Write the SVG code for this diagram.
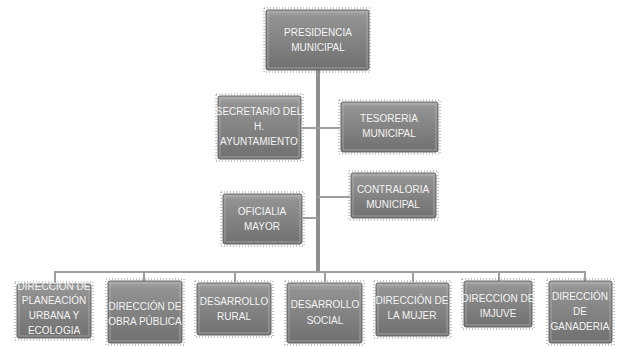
<svg xmlns="http://www.w3.org/2000/svg" width="619" height="346" viewBox="0 0 619 346">
<defs>
<linearGradient id="g" x1="0" y1="0" x2="0" y2="1">
<stop offset="0" stop-color="#a8a8a8"/>
<stop offset="0.12" stop-color="#929292"/>
<stop offset="1" stop-color="#707070"/>
</linearGradient>
</defs>
<style>
.box{fill:url(#g);stroke:#666;stroke-width:1}
.bevel{fill:none;stroke:#bcbcbc;stroke-width:1;opacity:0.6}
.dot{fill:none;stroke:#8a8a8a;stroke-width:1;stroke-dasharray:1 2}
.t{font-family:"Liberation Sans","DejaVu Sans",sans-serif;font-size:10px;fill:#f4f4f4;text-anchor:middle}
.c{stroke:#8f8f8f;fill:none}
.thin{stroke:#9e9e9e;stroke-width:2;fill:none}
</style>
<rect width="619" height="346" fill="#ffffff"/>
<g id="connectors">
<line class="c" x1="318" y1="70" x2="318" y2="272" stroke-width="4"/>
<line class="thin" x1="302" y1="128" x2="340" y2="128"/>
<line class="thin" x1="318" y1="197" x2="350" y2="197"/>
<line class="thin" x1="303" y1="218" x2="318" y2="218"/>
<polyline class="thin" points="55,283 55,272 585,272 585,281"/>
<line class="thin" x1="144" y1="272" x2="144" y2="281"/>
<line class="thin" x1="235" y1="272" x2="235" y2="282"/>
<line class="thin" x1="325" y1="272" x2="325" y2="282"/>
<line class="thin" x1="413" y1="272" x2="413" y2="282"/>
<line class="thin" x1="499" y1="272" x2="499" y2="281"/>
</g>
<g id="presidencia">
<rect class="dot" x="264" y="8" width="106" height="64"/>
<rect class="box" x="266" y="10" width="103" height="60" rx="2"/>
<rect class="bevel" x="268" y="12" width="99" height="56"/>
<text class="t" x="318" y="36">PRESIDENCIA</text>
<text class="t" x="318" y="51">MUNICIPAL</text>
</g>
<g id="secretario">
<rect class="dot" x="216" y="94" width="87" height="67"/>
<rect class="box" x="218" y="96" width="83" height="63" rx="2"/>
<rect class="bevel" x="220" y="98" width="79" height="59"/>
<text class="t" x="259" y="115">SECRETARIO  DEL</text>
<text class="t" x="259" y="130">H.</text>
<text class="t" x="259" y="145">AYUNTAMIENTO</text>
</g>
<g id="tesoreria">
<rect class="dot" x="339" y="100" width="101" height="54"/>
<rect class="box" x="341" y="102" width="97" height="50" rx="2"/>
<rect class="bevel" x="343" y="104" width="93" height="46"/>
<text class="t" x="389" y="122">TESORERIA</text>
<text class="t" x="389" y="137">MUNICIPAL</text>
</g>
<g id="contraloria">
<rect class="dot" x="349" y="171" width="89" height="49"/>
<rect class="box" x="351" y="173" width="85" height="45" rx="2"/>
<rect class="bevel" x="353" y="175" width="81" height="41"/>
<text class="t" x="393" y="193">CONTRALORIA</text>
<text class="t" x="393" y="208">MUNICIPAL</text>
</g>
<g id="oficialia">
<rect class="dot" x="221" y="192" width="83" height="54"/>
<rect class="box" x="223" y="194" width="79" height="50" rx="2"/>
<rect class="bevel" x="225" y="196" width="75" height="46"/>
<text class="t" x="262" y="215">OFICIALIA</text>
<text class="t" x="262" y="230">MAYOR</text>
</g>
<g id="planeacion">
<rect class="dot" x="15" y="282" width="78" height="58"/>
<rect class="box" x="17" y="284" width="74" height="54" rx="2"/>
<rect class="bevel" x="19" y="286" width="70" height="50"/>
<text class="t" x="54" y="290">DIRECCION DE</text>
<text class="t" x="54" y="304">PLANEACIÓN</text>
<text class="t" x="54" y="319">URBANA  Y</text>
<text class="t" x="54" y="334">ECOLOGIA</text>
</g>
<g id="obra">
<rect class="dot" x="106" y="279" width="78" height="66"/>
<rect class="box" x="108" y="281" width="74" height="62" rx="2"/>
<rect class="bevel" x="110" y="283" width="70" height="58"/>
<text class="t" x="145" y="310">DIRECCIÓN DE</text>
<text class="t" x="145" y="325">OBRA PÚBLICA</text>
</g>
<g id="rural">
<rect class="dot" x="195" y="281" width="78" height="56"/>
<rect class="box" x="197" y="283" width="74" height="52" rx="2"/>
<rect class="bevel" x="199" y="285" width="70" height="48"/>
<text class="t" x="234" y="305">DESARROLLO</text>
<text class="t" x="234" y="320">RURAL</text>
</g>
<g id="social">
<rect class="dot" x="285" y="281" width="79" height="64"/>
<rect class="box" x="287" y="283" width="75" height="60" rx="2"/>
<rect class="bevel" x="289" y="285" width="71" height="56"/>
<text class="t" x="325" y="308">DESARROLLO</text>
<text class="t" x="325" y="324">SOCIAL</text>
</g>
<g id="mujer">
<rect class="dot" x="374" y="281" width="77" height="57"/>
<rect class="box" x="376" y="283" width="73" height="53" rx="2"/>
<rect class="bevel" x="378" y="285" width="69" height="49"/>
<text class="t" x="412" y="304">DIRECCIÓN DE</text>
<text class="t" x="412" y="319">LA MUJER</text>
</g>
<g id="imjuve">
<rect class="dot" x="462" y="279" width="72" height="50"/>
<rect class="box" x="464" y="281" width="68" height="46" rx="2"/>
<rect class="bevel" x="466" y="283" width="64" height="42"/>
<text class="t" x="498" y="302">DIRECCION DE</text>
<text class="t" x="498" y="317">IMJUVE</text>
</g>
<g id="ganaderia">
<rect class="dot" x="547" y="279" width="67" height="66"/>
<rect class="box" x="549" y="281" width="63" height="62" rx="2"/>
<rect class="bevel" x="551" y="283" width="59" height="58"/>
<text class="t" x="580" y="300">DIRECCIÓN</text>
<text class="t" x="580" y="315">DE</text>
<text class="t" x="580" y="330">GANADERIA</text>
</g>
</svg>
